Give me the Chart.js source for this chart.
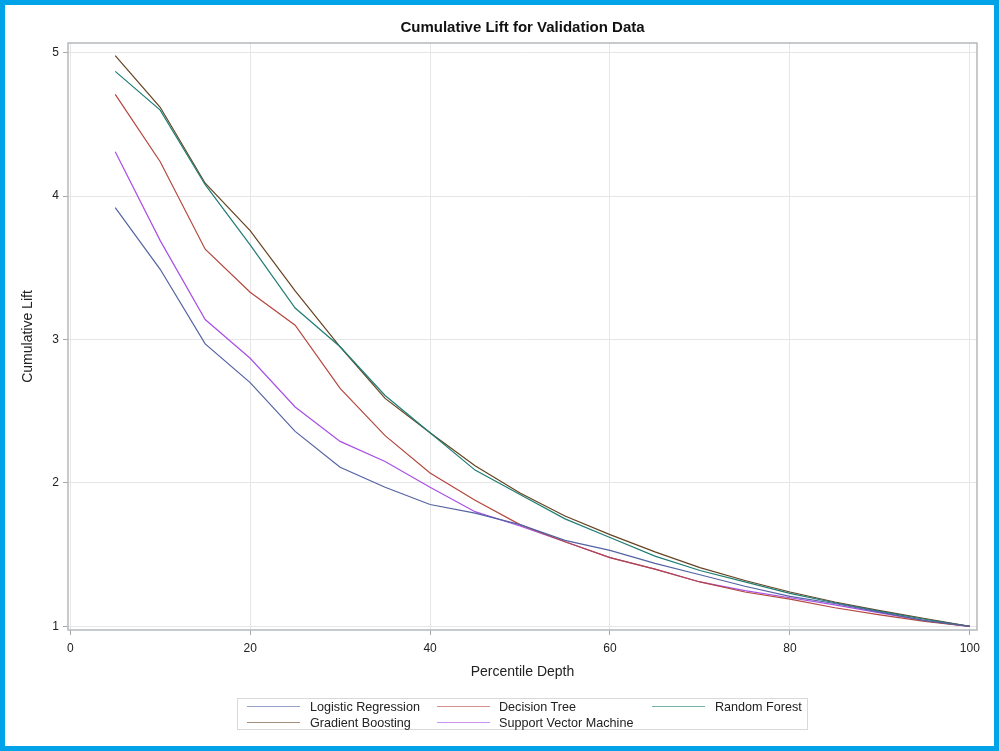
<!DOCTYPE html>
<html>
<head>
<meta charset="utf-8">
<script src="https://cdn.jsdelivr.net/npm/chart.js@4.4.0/dist/chart.umd.min.js"></script>
<style>
  html, body { margin: 0; padding: 0; background: #fff; }
  #frame {
    position: relative; width: 999px; height: 751px;
    box-sizing: border-box; border: 5px solid #00A2E8; background: #fff;
    font-family: "Liberation Sans", Arial, sans-serif;
  }
  #chart { position: absolute; left: 0; top: 0; }
  #legend {
    position: absolute; left: 232px; top: 693px; width: 571px; height: 32px;
    border: 1px solid #D9D9D9; box-sizing: border-box;
  }
  .lg-line { position: absolute; height: 0; width: 53px; border-top: 1.5px solid; opacity: 0.6; }
  .lg-text { position: absolute; font-size: 12.6px; color: #222; line-height: 14px; white-space: nowrap; }
</style>
</head>
<body>
<div id="frame">
  <canvas id="chart" width="989" height="741"></canvas>
  <div id="legend"></div>
</div>
<script>
// Percentile depth (x) for every series
const depth = [5, 10, 15, 20, 25, 30, 35, 40, 45, 50, 55, 60, 65, 70, 75, 80, 85, 90, 95, 100];

// Cumulative lift
const logisticRegression = [3.92, 3.49, 2.97, 2.70, 2.36, 2.11, 1.97, 1.85, 1.79, 1.71, 1.60, 1.53, 1.44, 1.36, 1.28, 1.21, 1.16, 1.10, 1.04, 1.00];
const decisionTree       = [4.71, 4.24, 3.63, 3.33, 3.10, 2.66, 2.33, 2.07, 1.88, 1.71, 1.59, 1.48, 1.40, 1.31, 1.24, 1.19, 1.13, 1.08, 1.035, 1.00];
const randomForest       = [4.87, 4.60, 4.08, 3.66, 3.22, 2.95, 2.61, 2.35, 2.09, 1.92, 1.75, 1.62, 1.49, 1.39, 1.31, 1.23, 1.165, 1.105, 1.05, 1.00];
const gradientBoosting   = [4.98, 4.62, 4.09, 3.76, 3.34, 2.95, 2.59, 2.35, 2.12, 1.93, 1.77, 1.64, 1.52, 1.41, 1.32, 1.24, 1.17, 1.11, 1.055, 1.00];
const supportVector      = [4.31, 3.69, 3.14, 2.87, 2.53, 2.29, 2.15, 1.97, 1.80, 1.70, 1.59, 1.48, 1.40, 1.31, 1.25, 1.20, 1.15, 1.095, 1.04, 1.00];

const seriesNames = ['Logistic Regression', 'Decision Tree', 'Random Forest', 'Gradient Boosting', 'Support Vector Machine'];
const seriesValues = [logisticRegression, decisionTree, randomForest, gradientBoosting, supportVector];
const seriesColors = ['#5363A2', '#B4473D', '#1E7D75', '#654420', '#A84FE8'];

const xTicks = [0, 20, 40, 60, 80, 100];
const yTicks = [1, 2, 3, 4, 5];

const FONT = '"Liberation Sans", Arial, sans-serif';

const datasets = seriesNames.map((name, i) => ({
    label: name,
    data: depth.map((d, j) => ({ x: d, y: seriesValues[i][j] })),
    borderColor: seriesColors[i],
    borderWidth: 1.2,
    pointRadius: 0,
    tension: 0,
    fill: false
}));

// title centred over the plot area + plot frame
const extras = {
    id: 'extras',
    afterDraw(chart) {
        const { ctx, chartArea: a } = chart;
        ctx.save();
        ctx.strokeStyle = '#B4B9BD';
        ctx.lineWidth = 1.5;
        ctx.strokeRect(a.left, a.top, a.right - a.left, a.bottom - a.top);
        ctx.fillStyle = '#111';
        ctx.font = 'bold 15px ' + FONT;
        ctx.textAlign = 'center';
        ctx.textBaseline = 'middle';
        ctx.fillText('Cumulative Lift for Validation Data', (a.left + a.right) / 2, 22.5);
        ctx.restore();
    }
};

const ctx = document.getElementById('chart').getContext('2d');
const liftChart = new Chart(ctx, {
    type: 'line',
    data: { datasets: datasets },
    plugins: [extras],
    options: {
        responsive: false,
        animation: false,
        devicePixelRatio: 1,
        layout: { padding: { top: 38, right: 17, bottom: 0, left: 0 } },
        plugins: {
            legend: { display: false },
            title: { display: false },
            tooltip: { enabled: false }
        },
        scales: {
            x: {
                type: 'linear',
                min: -0.25,
                max: 100.8,
                afterFit: (s) => { s.height = 116; },
                afterBuildTicks: (s) => { s.ticks = xTicks.map(v => ({ value: v })); },
                ticks: { stepSize: 20, includeBounds: false, color: '#222', font: { family: FONT, size: 12 }, padding: 6, maxRotation: 0 },
                grid: { color: '#E6E6E6', tickColor: '#A8A8A8', tickLength: 5 },
                border: { display: false },
                title: { display: true, text: 'Percentile Depth', color: '#222', font: { family: FONT, size: 14 }, padding: { top: 0, bottom: 65 } }
            },
            y: {
                type: 'linear',
                min: 0.975,
                max: 5.068,
                afterFit: (s) => { s.width = 63; },
                afterBuildTicks: (s) => { s.ticks = yTicks.map(v => ({ value: v })); },
                ticks: { stepSize: 1, includeBounds: false, color: '#222', font: { family: FONT, size: 12 }, padding: 4 },
                grid: { color: '#E6E6E6', tickColor: '#A8A8A8', tickLength: 5 },
                border: { display: false },
                title: { display: true, text: 'Cumulative Lift', color: '#222', font: { family: FONT, size: 14 }, padding: { top: 14.5, bottom: 0 } }
            }
        }
    }
});

// legend: 3 columns, 2 rows
const legendCols = [[9, 72], [199, 261], [414, 477]];
const legendRows = [7.5, 24];
const legendEl = document.getElementById('legend');
seriesNames.forEach((name, i) => {
    const col = legendCols[i % 3];
    const rowY = legendRows[Math.floor(i / 3)];
    const line = document.createElement('div');
    line.className = 'lg-line';
    line.style.left = col[0] + 'px';
    line.style.top = (rowY - 1) + 'px';
    line.style.borderColor = seriesColors[i];
    const text = document.createElement('div');
    text.className = 'lg-text';
    text.style.left = col[1] + 'px';
    text.style.top = (rowY - 7) + 'px';
    text.textContent = name;
    legendEl.appendChild(line);
    legendEl.appendChild(text);
});
</script>
</body>
</html>
